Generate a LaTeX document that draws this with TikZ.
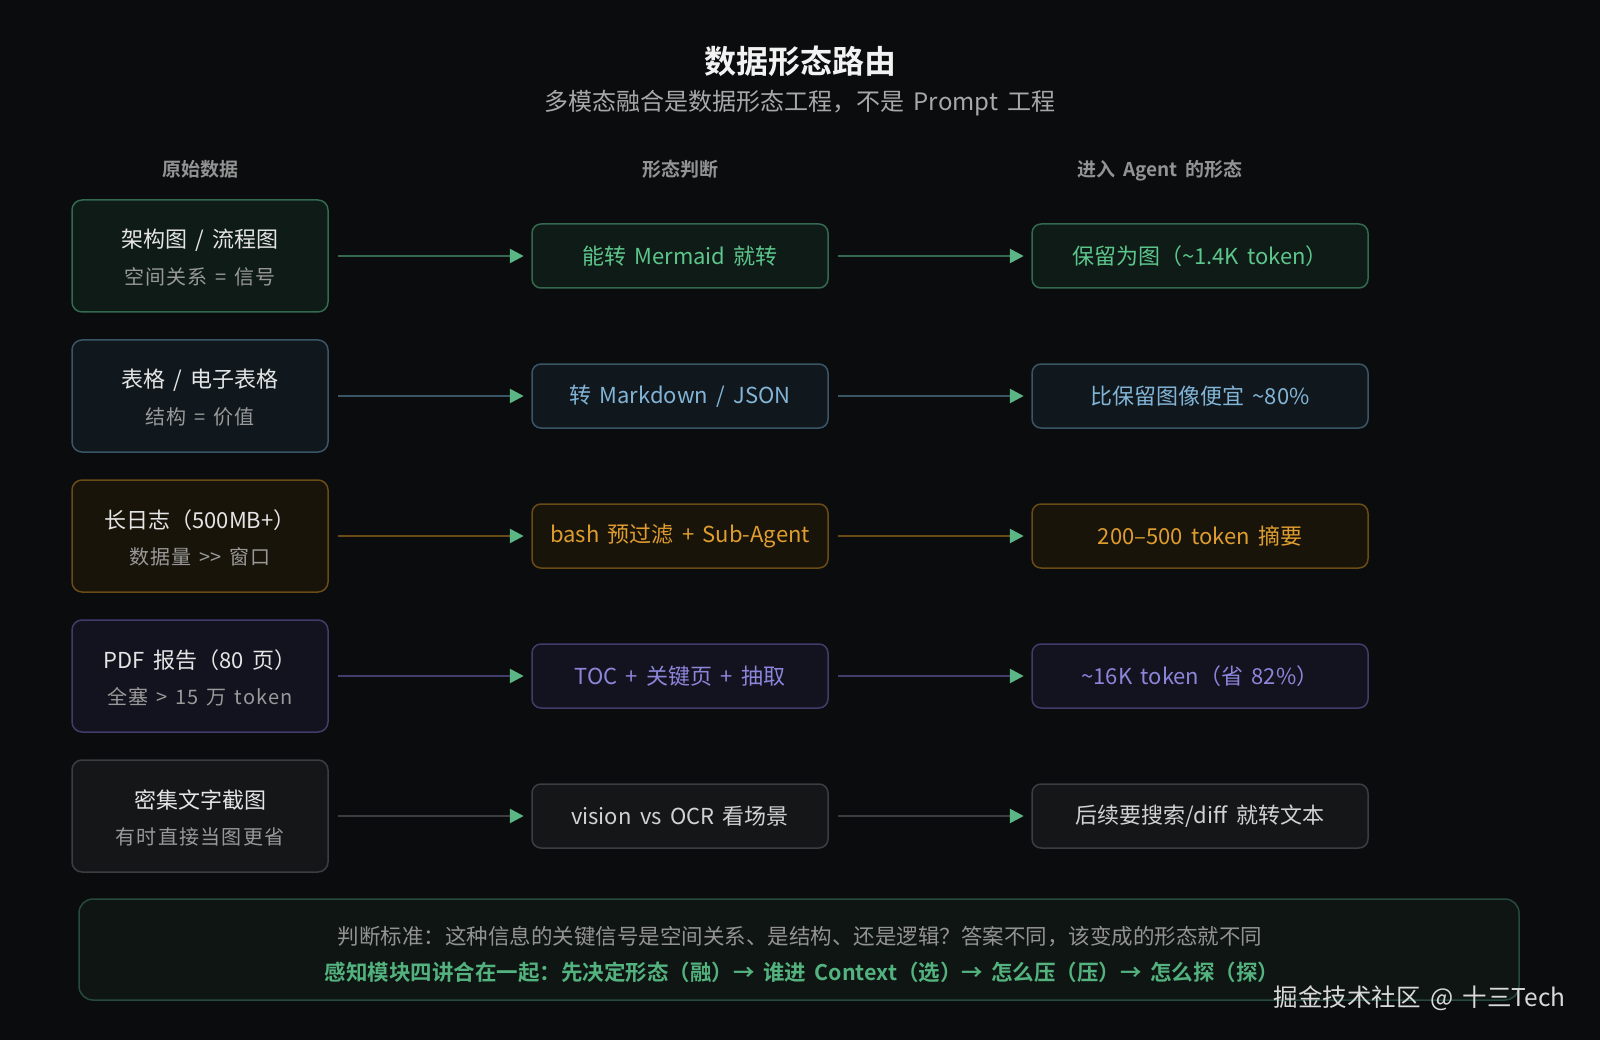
\documentclass[tikz,border=0pt]{standalone}
\usepackage{fontspec}
\setmainfont{Noto Sans CJK SC}[BoldFont={Noto Sans CJK SC Bold}, WordSpace=1.7]
\newfontfamily\subfont{Noto Sans CJK SC}[LetterSpace=6, WordSpace=1.4]
\usepackage{xcolor}
\usepackage{tikz}
\usetikzlibrary{arrows.meta, positioning}

\definecolor{bgdark}{HTML}{0B0C0E}
\definecolor{arrowgrn}{HTML}{5BB585}
% row palettes: <name>line / <name>fill / <name>text
\definecolor{grnline}{HTML}{33694F}
\definecolor{grnfill}{HTML}{0F1B16}
\definecolor{grntext}{HTML}{5CC68C}
\definecolor{bluline}{HTML}{3A5566}
\definecolor{blufill}{HTML}{10181E}
\definecolor{blutext}{HTML}{82B4D6}
\definecolor{orgline}{HTML}{6A4B16}
\definecolor{orgfill}{HTML}{19140A}
\definecolor{orgtext}{HTML}{DE9D2E}
\definecolor{purline}{HTML}{403C6C}
\definecolor{purfill}{HTML}{13121F}
\definecolor{purtext}{HTML}{8C86DA}
\definecolor{gryline}{HTML}{3C3D40}
\definecolor{gryfill}{HTML}{151618}
\definecolor{grytext}{HTML}{D2D2D2}
\definecolor{notefill}{HTML}{0E1513}
\definecolor{noteline}{HTML}{264A3B}

\begin{document}
\begin{tikzpicture}[
  x=1pt, y=-1pt,
  srcbox/.style   = {draw=#1line, fill=#1fill, rounded corners=10pt,
                     minimum width=256pt, minimum height=112pt,
                     line width=1.5pt},
  formbox/.style  = {draw=#1line, fill=#1fill, text=#1text, rounded corners=9pt,
                     minimum width=296pt, minimum height=64pt, line width=1.5pt,
                     font=\fontsize{22}{26}\selectfont},
  agentbox/.style = {formbox=#1, minimum width=336pt},
  srcmain/.style  = {text=white!90!black, font=\fontsize{22}{26}\selectfont},
  srcsub/.style   = {text=gray!80!white, font=\subfont\fontsize{20}{24}\selectfont},
  colhead/.style  = {text=gray!85!white, font=\fontsize{19}{23}\selectfont\bfseries,
                     text height=0.85em, text depth=0.2em},
  flow/.style     = {-{Triangle[length=14pt, width=14pt, color=arrowgrn]},
                     draw=#1line, line width=2.7pt,
                     shorten <=9pt, shorten >=7.5pt},
]

%% ── Background / canvas ──────────────────────────────────────────
\fill[bgdark] (0,0) rectangle (1600,1040);
\useasboundingbox (0,0) rectangle (1600,1040);

%% ── Title ────────────────────────────────────────────────────────
\node[text=white!95!black, font=\fontsize{32}{38}\selectfont\bfseries]
  (title) at (800,61) {数据形态路由};
\node[text=gray!68!white, font=\fontsize{24}{28}\selectfont]
  (subtitle) at (800,103) {多模态融合是数据形态工程，不是 Prompt 工程};

%% ── Column headers ───────────────────────────────────────────────
\node[colhead] (hsrc)   at (200,173)  {原始数据};
\node[colhead] (hform)  at (680,173)  {形态判断};
\node[colhead] (hagent) at (1160,173) {进入 Agent 的形态};

%% ── Row 1: diagrams ──────────────────────────────────────────────
\node[srcbox=grn]   (src1)   at (200,256) {};
\node[srcmain]      (src1t)  at (200,240) {架构图 / 流程图};
\node[srcsub]       (src1s)  at (200,277) {空间关系 = 信号};
\node[formbox=grn]  (form1)  at (680,256) {能转 Mermaid 就转};
\node[agentbox=grn] (agent1) at (1200,256) {保留为图（\textasciitilde1.4K token）};
\draw[flow=grn] (src1)  -- (form1);
\draw[flow=grn] (form1) -- (agent1);

%% ── Row 2: tables ────────────────────────────────────────────────
\node[srcbox=blu]   (src2)   at (200,396) {};
\node[srcmain]      (src2t)  at (200,380) {表格 / 电子表格};
\node[srcsub]       (src2s)  at (200,417) {结构 = 价值};
\node[formbox=blu]  (form2)  at (680,396) {转 Markdown / JSON};
\node[agentbox=blu] (agent2) at (1200,396) {比保留图像便宜 \textasciitilde80\%};
\draw[flow=blu] (src2)  -- (form2);
\draw[flow=blu] (form2) -- (agent2);

%% ── Row 3: long logs ─────────────────────────────────────────────
\node[srcbox=org]   (src3)   at (200,536) {};
\node[srcmain]      (src3t)  at (200,520) {长日志（500MB+）};
\node[srcsub]       (src3s)  at (200,557) {数据量 >\kern0pt> 窗口};
\node[formbox=org]  (form3)  at (680,536) {bash 预过滤 + Sub-Agent};
\node[agentbox=org] (agent3) at (1200,536) {200--500 token 摘要};
\draw[flow=org] (src3)  -- (form3);
\draw[flow=org] (form3) -- (agent3);

%% ── Row 4: PDF report ────────────────────────────────────────────
\node[srcbox=pur]   (src4)   at (200,676) {};
\node[srcmain]      (src4t)  at (200,660) {PDF 报告（80 页）};
\node[srcsub]       (src4s)  at (200,697) {全塞 > 15 万 token};
\node[formbox=pur]  (form4)  at (680,676) {TOC + 关键页 + 抽取};
\node[agentbox=pur] (agent4) at (1200,676) {\textasciitilde16K token（省 82\%）};
\draw[flow=pur] (src4)  -- (form4);
\draw[flow=pur] (form4) -- (agent4);

%% ── Row 5: dense screenshots ─────────────────────────────────────
\node[srcbox=gry]   (src5)   at (200,816) {};
\node[srcmain]      (src5t)  at (200,800) {密集文字截图};
\node[srcsub]       (src5s)  at (200,837) {有时直接当图更省};
\node[formbox=gry]  (form5)  at (680,816) {vision vs OCR 看场景};
\node[agentbox=gry] (agent5) at (1200,816) {后续要搜索/diff 就转文本};
\draw[flow=gry] (src5)  -- (form5);
\draw[flow=gry] (form5) -- (agent5);

%% ── Bottom note ──────────────────────────────────────────────────
\node[draw=noteline, fill=notefill, rounded corners=14pt, line width=1.5pt,
      minimum width=1440pt, minimum height=101pt] (note) at (799,949.5) {};
\node[text=gray!85!white, font=\fontsize{21.5}{26}\selectfont] (note1) at (800,937)
  {判断标准：这种信息的关键信号是空间关系、是结构、还是逻辑？答案不同，该变成的形态就不同};
\node[text=grntext!90!black, font=\fontsize{21.5}{26}\selectfont\bfseries] (note2) at (802,972)
  {感知模块四讲合在一起：先决定形态（融）→ 谁进 Context（选）→ 怎么压（压）→ 怎么探（探）};

%% ── Watermark ────────────────────────────────────────────────────
\node[text=white!85!black, font=\fontsize{24.5}{30}\selectfont, anchor=east]
  (mark) at (1569,998) {掘金技术社区 @ 十三Tech};

\end{tikzpicture}
\end{document}
